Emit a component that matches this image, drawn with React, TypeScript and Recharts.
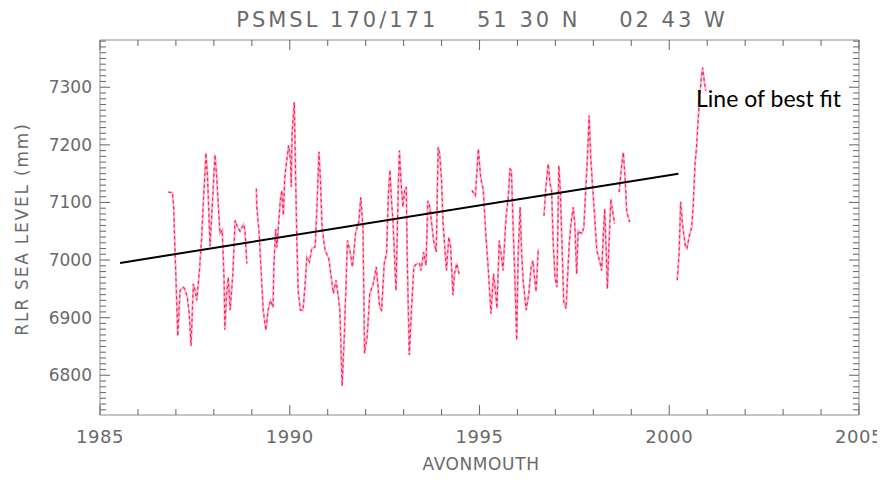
import React from "react";
import { LineChart, Line, XAxis, YAxis } from "recharts";

// monthly mean sea level, Avonmouth (null = missing months)
const years = [
  1986.8, 1986.91, 1986.94, 1987.05, 1987.11, 1987.19, 1987.23, 1987.3, 1987.35, 1987.4,
  1987.46, 1987.5, 1987.55, 1987.62, 1987.68, 1987.72, 1987.77, 1987.79, 1987.83, 1987.9,
  1988.03, 1988.07, 1988.12, 1988.16, 1988.22, 1988.27, 1988.29, 1988.33, 1988.38, 1988.43,
  1988.5, 1988.56, 1988.62, 1988.69, 1988.78, 1988.82, 1988.87, 1989.0,
  1989.12, 1989.13, 1989.2, 1989.24, 1989.3, 1989.37, 1989.43, 1989.49, 1989.56, 1989.58,
  1989.63, 1989.66, 1989.7, 1989.75, 1989.79, 1989.83, 1989.87, 1989.97, 1990.02, 1990.04,
  1990.06, 1990.12, 1990.14, 1990.18, 1990.22, 1990.28, 1990.35, 1990.4, 1990.45, 1990.52,
  1990.58, 1990.67, 1990.72, 1990.77, 1990.81, 1990.85, 1990.93, 1991.03, 1991.15, 1991.22,
  1991.28, 1991.32, 1991.38, 1991.44, 1991.52, 1991.6, 1991.65, 1991.74, 1991.82, 1991.87,
  1991.93, 1991.97, 1992.04, 1992.11, 1992.2, 1992.28, 1992.37, 1992.42, 1992.49, 1992.55,
  1992.6, 1992.64, 1992.68, 1992.72, 1992.8, 1992.86, 1992.89, 1992.93, 1992.98, 1993.03,
  1993.07, 1993.1, 1993.15, 1993.21, 1993.27, 1993.35, 1993.42, 1993.46, 1993.53, 1993.59,
  1993.64, 1993.69, 1993.75, 1993.79, 1993.86, 1993.91, 1993.95, 1994.0, 1994.04, 1994.13,
  1994.19, 1994.24, 1994.3, 1994.34, 1994.4, 1994.46, 1994.6,
  1994.8, 1994.89, 1994.97, 1995.03, 1995.1, 1995.17, 1995.24, 1995.3, 1995.37, 1995.41,
  1995.46, 1995.52, 1995.58, 1995.62, 1995.7, 1995.76, 1995.8, 1995.84, 1995.89, 1995.95,
  1995.98, 1996.02, 1996.07, 1996.11, 1996.15, 1996.23, 1996.3, 1996.36, 1996.41, 1996.44,
  1996.49, 1996.55, 1996.62,
  1996.7, 1996.75, 1996.81, 1996.86, 1996.9, 1996.94, 1996.99, 1997.04, 1997.09, 1997.13,
  1997.17, 1997.22, 1997.28, 1997.32, 1997.37, 1997.41, 1997.47, 1997.51, 1997.56, 1997.6,
  1997.64, 1997.7, 1997.75, 1997.79, 1997.84, 1997.89, 1997.93, 1997.98, 1998.03, 1998.09,
  1998.18, 1998.22, 1998.26, 1998.3, 1998.34, 1998.37, 1998.41, 1998.46, 1998.52, 1998.56, 1998.62,
  1998.68, 1998.74, 1998.79, 1998.84, 1998.88, 1998.96, 1999.5,
  2000.21, 2000.26, 2000.3, 2000.34, 2000.38, 2000.43, 2000.47, 2000.52, 2000.59, 2000.63,
  2000.68, 2000.72, 2000.76, 2000.81, 2000.85, 2000.88, 2000.92, 2000.96,
];
const levels = [
  7118, 7117, 7093, 6868, 6947, 6953, 6950, 6936, 6907, 6851,
  6959, 6950, 6930, 6982, 7040, 7098, 7156, 7186, 7150, 7024,
  7183, 7150, 7092, 7046, 7052, 6965, 6879, 6936, 6970, 6913,
  6976, 7069, 7058, 7050, 7062, 7052, 6994, null,
  7124, 7095, 7040, 6988, 6913, 6878, 6913, 6930, 6918, 6988,
  7054, 7022, 7057, 7103, 7121, 7078, 7145, 7199, 7173, 7127,
  7219, 7274, 7196, 7057, 6947, 6913, 6913, 6953, 7005, 6997,
  7020, 7023, 7098, 7188, 7138, 7057, 7017, 7002, 6942, 6965,
  6936, 6913, 6781, 6872, 7034, 7011, 6988, 7049, 7066, 7109,
  7057, 6838, 6867, 6942, 6959, 6988, 6918, 6913, 6994, 7011,
  7115, 7156, 7104, 7069, 6947, 7127, 7190, 7138, 7092, 7121,
  7127, 6988, 6835, 6918, 6988, 6994, 6994, 6982, 7014, 6991,
  7103, 7092, 7057, 7034, 7014, 7196, 7185, 7138, 7063, 6982,
  7040, 7023, 6939, 6976, 6994, 6976, null,
  7121, 7112, 7193, 7144, 7121, 7040, 6976, 6907, 6976, 6953,
  6916, 7034, 7005, 6982, 7075, 7110, 7158, 7156, 7051, 6930,
  6861, 7011, 7092, 7011, 6965, 6913, 6942, 6988, 6999, 6976,
  6945, 7020, null,
  7077, 7127, 7167, 7132, 7121, 7034, 6970, 6953, 7164, 7121,
  7034, 6927, 6916, 6970, 7034, 7063, 7092, 7063, 6976, 7051,
  7048, 7046, 7057, 7110, 7173, 7251, 7179, 7127, 7080, 7017,
  6994, 6982, 7040, 7089, 7011, 6950, 7023, 7106, 7080, 7063, null,
  7118, 7161, 7187, 7138, 7083, 7066, null,
  6965, 7011, 7101, 7069, 7046, 7023, 7020, 7040, 7057, 7092,
  7167, 7196, 7242, 7288, 7320, 7334, 7312, 7294,
];

const fitYears = [1985.53, 2000.24];
const fitLevels = [6995, 7150];

const xTicks = [1985, 1986, 1987, 1988, 1989, 1990, 1991, 1992, 1993, 1994, 1995, 1996, 1997, 1998, 1999, 2000, 2001, 2002, 2003, 2004, 2005];
const yTicks: number[] = [];
for (let v = 6740; v <= 7380; v += 10) yTicks.push(v);

const W = 885;
const H = 495;
const M = { top: 40, right: 26, left: 40, bottom: 40 };
const Y_W = 60;
const X_H = 40;
const PLOT_W = W - M.left - M.right - Y_W;
const PLOT_H = H - M.top - M.bottom - X_H;
const AXIS = "#8c8c8c";
const TICK = "#707070";
const TXT = "#6a6a6a";
const FONT = "'DejaVu Sans', sans-serif";

const XTick = (props: any) => {
  const { x, y, payload, index } = props;
  const major = payload.value % 5 === 0;
  const len = major ? 10 : 6;
  return (
    <g>
      {index === 0 && (
        <path d={`M${x},${y - PLOT_H}H${x + PLOT_W}V${y}`} stroke={AXIS} fill="none" />
      )}
      <line x1={x} y1={y} x2={x} y2={y - len} stroke={TICK} strokeWidth={1.1} />
      <line x1={x} y1={y - PLOT_H} x2={x} y2={y - PLOT_H + len} stroke={TICK} strokeWidth={1.1} />
      {major && (
        <text x={x} y={y + 28} textAnchor="middle" fill={TXT} fontSize={18} fontFamily={FONT} letterSpacing={0.5}>
          {payload.value}
        </text>
      )}
    </g>
  );
};

const YTick = (props: any) => {
  const { x, y, payload } = props;
  const major = payload.value % 100 === 0;
  const len = major ? 10 : 6;
  return (
    <g>
      <line x1={x} y1={y} x2={x + len} y2={y} stroke={TICK} strokeWidth={1.1} />
      <line x1={x + PLOT_W - len} y1={y} x2={x + PLOT_W} y2={y} stroke={TICK} strokeWidth={1.1} />
      {major && (
        <text x={x - 8} y={y + 6} textAnchor="end" fill={TXT} fontSize={17} fontFamily={FONT}>
          {payload.value}
        </text>
      )}
    </g>
  );
};

export default function App() {
  const data = years.map((t, i) => ({ t, level: levels[i] }));
  const fit = fitYears.map((t, i) => ({ t, fit: fitLevels[i] }));
  return (
    <div style={{ position: "relative", width: W, height: H, margin: -8, background: "#fff" }}>
      <LineChart width={W} height={H} data={data} margin={M}>
        <XAxis
          type="number"
          dataKey="t"
          domain={[1985, 2005]}
          ticks={xTicks}
          interval={0}
          tickSize={0}
          tickMargin={0}
          tickLine={false}
          axisLine={{ stroke: AXIS }}
          tick={<XTick />}
          height={X_H}
        />
        <YAxis
          type="number"
          domain={[6731, 7382]}
          ticks={yTicks}
          interval={0}
          tickSize={0}
          tickMargin={0}
          tickLine={false}
          axisLine={{ stroke: AXIS }}
          tick={<YTick />}
          width={Y_W}
        />
        <Line dataKey="level" stroke="#ffb0c4" strokeWidth={2} dot={false} connectNulls={false} isAnimationActive={false} />
        <Line dataKey="level" stroke="#ff1f5e" strokeWidth={1.2} strokeDasharray="3 3" dot={false} connectNulls={false} isAnimationActive={false} />
        <Line data={fit} dataKey="fit" stroke="#000" strokeWidth={2} dot={false} isAnimationActive={false} />
      </LineChart>
      <svg width={W} height={H} style={{ position: "absolute", left: 0, top: 0, pointerEvents: "none" }}>
        <text x={482} y={27} textAnchor="middle" fill={TXT} fontSize={21} fontFamily={FONT} letterSpacing={3} style={{ whiteSpace: "pre" }}>
          {"PSMSL 170/171    51 30 N    02 43 W"}
        </text>
        <text x={481} y={470} textAnchor="middle" fill={TXT} fontSize={17} fontFamily={FONT} letterSpacing={0.6}>
          AVONMOUTH
        </text>
        <text x={0} y={0} transform="translate(28,229) rotate(-90)" textAnchor="middle" fill={TXT} fontSize={17} fontFamily={FONT} letterSpacing={1.8}>
          RLR SEA LEVEL (mm)
        </text>
        <text x={696} y={107} fill="#000" fontSize={23} fontFamily="Lato, sans-serif">
          Line of best fit
        </text>
      </svg>
    </div>
  );
}
